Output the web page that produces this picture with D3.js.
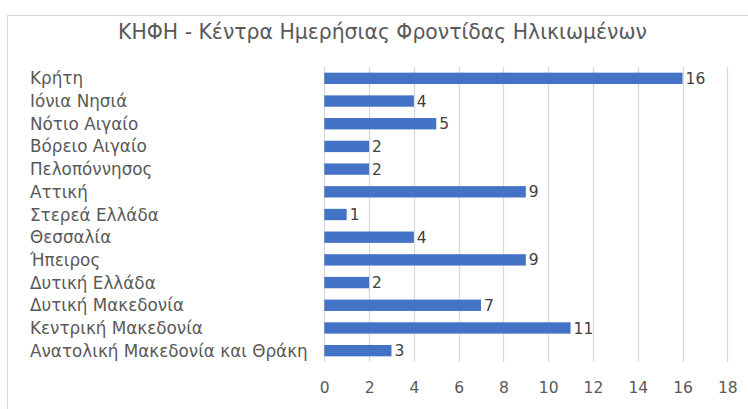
<!DOCTYPE html>
<html>
<head>
<meta charset="utf-8">
<script src="https://cdn.jsdelivr.net/npm/d3@7"></script>
<style>
  html, body { margin: 0; padding: 0; background: #fff; }
  svg { display: block; }
  text { font-family: "DejaVu Sans", sans-serif; }
</style>
</head>
<body>
<svg id="chart" width="748" height="409"></svg>
<script>
const title = "ΚΗΦΗ - Κέντρα Ημερήσιας Φροντίδας Ηλικιωμένων";
const categories = [
  "Κρήτη",
  "Ιόνια Νησιά",
  "Νότιο Αιγαίο",
  "Βόρειο Αιγαίο",
  "Πελοπόννησος",
  "Αττική",
  "Στερεά Ελλάδα",
  "Θεσσαλία",
  "Ήπειρος",
  "Δυτική Ελλάδα",
  "Δυτική Μακεδονία",
  "Κεντρική Μακεδονία",
  "Ανατολική Μακεδονία και Θράκη"
];
const values = [16, 4, 5, 2, 2, 9, 1, 4, 9, 2, 7, 11, 3];
const xTicks = [0, 2, 4, 6, 8, 10, 12, 14, 16, 18];

const svg = d3.select("#chart");

svg.append("rect").attr("x", 0).attr("y", 0).attr("width", 748).attr("height", 409).attr("fill", "#fff");
svg.append("rect")
  .attr("x", 7.5).attr("y", 15.5).attr("width", 800).attr("height", 500)
  .attr("fill", "none").attr("stroke", "#d9d9d9").attr("stroke-width", 1);

const x = d3.scaleLinear().domain([0, 18]).range([324.3, 727.3]);
const y = d3.scaleBand().domain(categories).range([67, 362]).paddingInner(0.5).paddingOuter(0.25);

svg.append("text")
  .attr("x", 382.5).attr("y", 38.5)
  .attr("text-anchor", "middle")
  .attr("fill", "#595959")
  .style("font-size", "20.4px")
  .text(title);

// gridlines
svg.append("g").selectAll("line").data(xTicks).join("line")
  .attr("x1", d => Math.round(x(d)) + 0.5).attr("x2", d => Math.round(x(d)) + 0.5)
  .attr("y1", 67).attr("y2", 362)
  .attr("stroke", "#d9d9d9").attr("stroke-width", 1.3);

// x axis tick labels
const xAxis = d3.axisBottom(x).tickValues(xTicks).tickSize(0).tickPadding(0);
const gx = svg.append("g").attr("transform", "translate(0,381.5)").call(xAxis);
gx.select(".domain").remove();
gx.selectAll("text").attr("fill", "#595959").style("font-size", "15.5px")
  .style("font-family", '"DejaVu Sans", sans-serif').attr("dy", "0.71em");

// category labels
svg.append("g").selectAll("text").data(categories).join("text")
  .attr("x", 30)
  .attr("y", d => y(d) + y.bandwidth() / 2)
  .attr("dy", "0.36em")
  .attr("fill", "#595959")
  .style("font-size", "16.8px")
  .text(d => d);

// bars
svg.append("g").selectAll("rect").data(values).join("rect")
  .attr("x", x(0))
  .attr("y", (d, i) => y(categories[i]))
  .attr("width", d => x(d) - x(0))
  .attr("height", y.bandwidth())
  .attr("fill", "#4472c4");

// value labels
svg.append("g").selectAll("text").data(values).join("text")
  .attr("x", d => x(d) + 3)
  .attr("y", (d, i) => y(categories[i]) + y.bandwidth() / 2)
  .attr("dy", "0.36em")
  .attr("fill", "#404040")
  .style("font-size", "15.5px")
  .text(d => d);
</script>
</body>
</html>
